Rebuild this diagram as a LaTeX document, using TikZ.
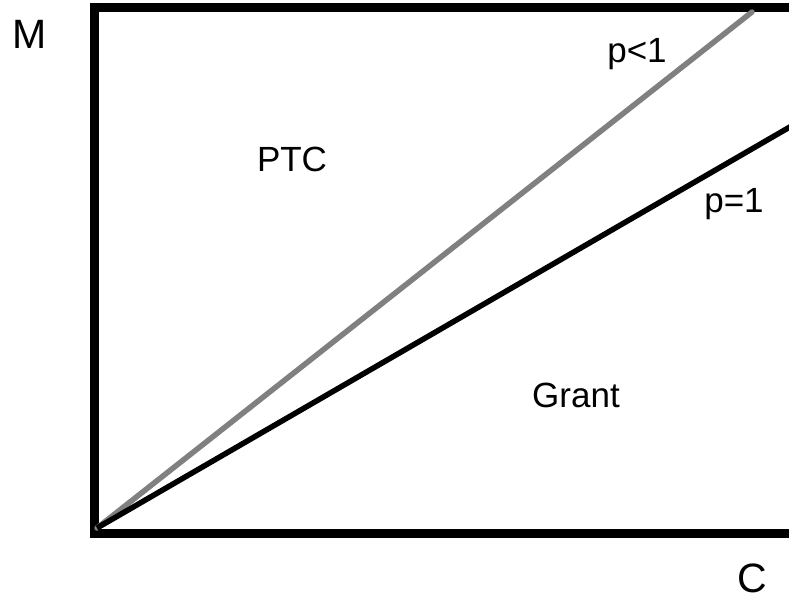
\documentclass[tikz,border=0pt]{standalone}
\usepackage{fontspec}
\setmainfont{Liberation Sans}
\usepackage{tikz}
\usetikzlibrary{positioning}
\definecolor{ptcgray}{HTML}{808080}

\begin{document}
\begin{tikzpicture}[
  x=1pt, y=-1pt,
  lbl/.style={anchor=base, inner sep=0pt, font=\fontsize{35}{42}\selectfont},
  axlbl/.style={lbl, font=\fontsize{41}{48}\selectfont},
  frame/.style={line width=9pt, line join=miter},
  ray/.style={line width=5.5pt, line cap=round}
]
\useasboundingbox (0,0) rectangle (789,601);
\coordinate (origin) at (97,528);
\coordinate (tl) at (94.5,7.5);
\coordinate (bl) at (94.5,533);
\coordinate (tr) at (789,7.5);
\coordinate (br) at (789,533);
\coordinate (endlt) at (752,12);
\coordinate (endeq) at (795,124);
% axes box
\draw[frame] (tr) -- (tl) -- (bl) -- (br);
% the two rays
\draw[ray, ptcgray] (origin) -- (endlt);
\draw[ray, line cap=butt] (origin) -- (endeq);
% labels
\node[axlbl] (ylab) at (29.5,49) {M};
\node[axlbl] (xlab) at (752,592) {C};
\node[lbl] (plt) at (637,63) {p<1};
\node[lbl] (peq) at (734,213) {p=1};
\node[lbl] (ptc) at (292,172) {PTC};
\node[lbl] (grant) at (576,407) {Grant};
\end{tikzpicture}
\end{document}
